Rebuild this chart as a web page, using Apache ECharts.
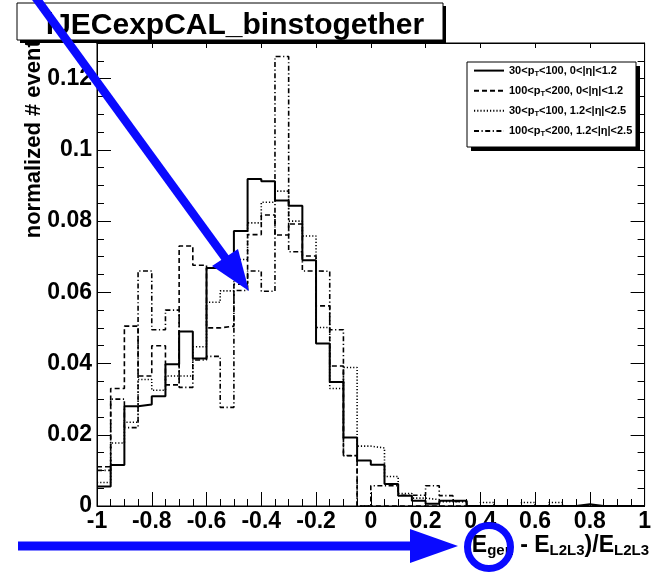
<!DOCTYPE html>
<html>
<head>
<meta charset="utf-8">
<script src="https://cdn.jsdelivr.net/npm/echarts@6/dist/echarts.min.js"></script>
<style>
  html, body { margin: 0; padding: 0; background: #fff; }
  #chart { width: 654px; height: 578px; }
</style>
</head>
<body>
<div id="chart"></div>
<script>
// Binning: 40 bins of width 0.05 on [-1, 1]
const xMin = -1;
const xMax = 1;
const binWidth = 0.05;

const titleText = 'lJECexpCAL_binstogether';
const yTitle = 'normalized # events';

// Legend labels (plain) and their rich-text forms
const seriesNames = [
  '30<pT<100, 0<|η|<1.2',
  '100<pT<200, 0<|η|<1.2',
  '30<pT<100, 1.2<|η|<2.5',
  '100<pT<200, 1.2<|η|<2.5'
];
const seriesLabels = [
  '30<p{sub|T}<100, 0<|η|<1.2',
  '100<p{sub|T}<200, 0<|η|<1.2',
  '30<p{sub|T}<100, 1.2<|η|<2.5',
  '100<p{sub|T}<200, 1.2<|η|<2.5'
];

// Normalized bin contents, one value per bin from -1 to 1
const lowPtCentral = [
  0.0055, 0.0115, 0.0280, 0.0285, 0.0308, 0.0398, 0.0490, 0.0414, 0.0668, 0.0668,
  0.0772, 0.0918, 0.0912, 0.0858, 0.0843, 0.0690, 0.0456, 0.0348, 0.0192, 0.0128,
  0.0116, 0.0062, 0.0029, 0.0015, 0.0006, 0.0015, 0.0015, 0, 0, 0,
  0, 0, 0, 0, 0, 0.0005, 0, 0, 0, 0
];
const highPtCentral = [
  0.0110, 0.0330, 0.0505, 0.0365, 0.0450, 0.0340, 0.0730, 0.0676, 0.0500, 0.0505,
  0.0623, 0.0762, 0.0817, 0.0761, 0.0792, 0.0702, 0.0562, 0.0393, 0.0142, 0,
  0, 0, 0, 0, 0, 0, 0, 0, 0, 0,
  0, 0, 0, 0, 0, 0, 0, 0, 0, 0
];
const lowPtForward = [
  0.0066, 0.0177, 0.0235, 0.0355, 0.0325, 0.0365, 0.0365, 0.0447, 0.0572, 0.0604,
  0.0692, 0.0795, 0.0853, 0.0884, 0.0800, 0.0758, 0.0501, 0.0330, 0.0389, 0.0168,
  0.0163, 0.0083, 0.0035, 0.0022, 0.0018, 0.0012, 0.0012, 0, 0.0010, 0,
  0, 0.0010, 0, 0.0010, 0, 0, 0, 0, 0, 0
];
const highPtForward = [
  0.0100, 0.0300, 0.0220, 0.0660, 0.0495, 0.0550, 0.0333, 0.0410, 0.0420, 0.0277,
  0.0605, 0.0660, 0.0603, 0.1262, 0.0714, 0.0660, 0.0659, 0.0495, 0.0141, 0,
  0.0057, 0.0057, 0.0030, 0.0030, 0.0057, 0.0029, 0.0013, 0, 0, 0,
  0, 0, 0, 0, 0, 0, 0, 0, 0, 0
];

// Histogram outline: one point per lower bin edge, plus the closing upper edge
function histPoints(values) {
  const pts = values.map((v, i) => [xMin + i * binWidth, v]);
  pts.push([xMax, values[values.length - 1]]);
  return pts;
}

const FONT = '"Liberation Sans", Arial, Helvetica, sans-serif';
const BLUE = '#0a0aff';

const styles = [
  { type: 'solid', width: 2 },
  { type: [5, 3], width: 1.6 },
  { type: [1.2, 2], width: 1.6 },
  { type: [5, 2.5, 1.2, 2.5], width: 1.6 }
];
const valueSets = [lowPtCentral, highPtCentral, lowPtForward, highPtForward];

const series = valueSets.map((vals, k) => ({
  name: seriesNames[k],
  type: 'line',
  step: 'end',
  symbol: 'none',
  showSymbol: false,
  silent: true,
  xAxisIndex: 0,
  yAxisIndex: 0,
  data: histPoints(vals),
  itemStyle: { color: '#000' },
  lineStyle: { color: '#000', type: styles[k].type, width: styles[k].width, cap: 'butt' },
  z: 3
}));

const tickLine = { lineStyle: { color: '#000', width: 1 } };

const chart = echarts.init(document.getElementById('chart'), null, { renderer: 'canvas' });

chart.setOption({
  animation: false,
  backgroundColor: '#fff',
  title: {
    text: titleText,
    left: 230,
    top: 4,
    textAlign: 'center',
    textStyle: { fontFamily: FONT, fontWeight: 'bold', fontSize: 30, color: '#000', lineHeight: 34 },
    z: 12
  },
  grid: {
    left: 97, top: 43, width: 552, height: 463,
    show: true, borderColor: '#000', borderWidth: 1, backgroundColor: 'transparent'
  },
  legend: {
    data: seriesNames,
    orient: 'vertical',
    left: 473,
    top: 65,
    padding: 0,
    itemGap: 7,
    itemWidth: 30,
    itemHeight: 14,
    z: 14,
    selectedMode: false,
    itemStyle: { color: 'transparent', borderWidth: 0, opacity: 0 },
    formatter: name => seriesLabels[seriesNames.indexOf(name)],
    textStyle: {
      fontFamily: FONT, fontWeight: 'bold', fontSize: 11, color: '#000',
      rich: { sub: { fontFamily: FONT, fontWeight: 'bold', fontSize: 7.5, color: '#000', padding: [7, 0, 0, 0] } }
    }
  },
  xAxis: [
    {
      type: 'value', position: 'bottom', min: xMin, max: xMax, interval: 0.2,
      axisLine: { show: true, onZero: false, lineStyle: { color: '#000', width: 1 } },
      axisTick: Object.assign({ show: true, inside: true, length: 14 }, tickLine),
      minorTick: Object.assign({ show: true, splitNumber: 4, length: 7 }, tickLine),
      splitLine: { show: false },
      axisLabel: { fontFamily: FONT, fontWeight: 'bold', fontSize: 23, color: '#000', margin: 4 }
    },
    {
      type: 'value', position: 'top', min: xMin, max: xMax, interval: 0.2,
      axisLine: { show: true, onZero: false, lineStyle: { color: '#000', width: 1 } },
      axisTick: Object.assign({ show: true, inside: true, length: 5 }, tickLine),
      splitLine: { show: false },
      axisLabel: { show: false }
    }
  ],
  yAxis: [
    {
      type: 'value', position: 'left', min: 0, max: 0.13, interval: 0.02,
      axisLine: { show: true, onZero: false, lineStyle: { color: '#000', width: 1 } },
      axisTick: Object.assign({ show: true, inside: true, length: 14 }, tickLine),
      splitLine: { show: false },
      axisLabel: { fontFamily: FONT, fontWeight: 'bold', fontSize: 23, color: '#000', margin: 5, showMaxLabel: false }
    },
    {
      type: 'value', position: 'left', min: 0, max: 0.13, interval: 0.005,
      axisLine: { show: false, onZero: false },
      axisTick: Object.assign({ show: true, inside: true, length: 7 }, tickLine),
      splitLine: { show: false },
      axisLabel: { show: false }
    },
    {
      type: 'value', position: 'right', min: 0, max: 0.13, interval: 0.02,
      axisLine: { show: true, onZero: false, lineStyle: { color: '#000', width: 1 } },
      axisTick: Object.assign({ show: true, inside: true, length: 14 }, tickLine),
      splitLine: { show: false },
      axisLabel: { show: false }
    },
    {
      type: 'value', position: 'right', min: 0, max: 0.13, interval: 0.005,
      axisLine: { show: false, onZero: false },
      axisTick: Object.assign({ show: true, inside: true, length: 7 }, tickLine),
      splitLine: { show: false },
      axisLabel: { show: false }
    }
  ],
  series: series,
  graphic: [
    // y-axis title, reading upward, its end tucked under the title box
    {
      type: 'text', x: 45, y: 28, rotation: Math.PI / 2, z: 5,
      style: { text: yTitle, fontFamily: FONT, fontWeight: 'bold', fontSize: 22, fill: '#000', align: 'right', verticalAlign: 'bottom' }
    },
    // x-axis title
    {
      type: 'text', x: 649, y: 546, z: 5,
      style: {
        text: '(E{s|gen} - E{s|L2L3})/E{s|L2L3}',
        fontFamily: FONT, fontWeight: 'bold', fontSize: 23, fill: '#000',
        align: 'right', verticalAlign: 'middle',
        rich: { s: { fontFamily: FONT, fontWeight: 'bold', fontSize: 15, fill: '#000', padding: [10, 0, 0, 0] } }
      }
    },
    // title box with drop shadow
    { type: 'rect', z: 10, shape: { x: 20, y: 6, width: 426, height: 37 }, style: { fill: '#000' } },
    { type: 'rect', z: 11, shape: { x: 17, y: 3, width: 426, height: 37 }, style: { fill: '#fff', stroke: '#000', lineWidth: 1 } },
    // legend box with drop shadow
    { type: 'rect', z: 10, shape: { x: 471, y: 66, width: 169, height: 85 }, style: { fill: '#000' } },
    { type: 'rect', z: 11, shape: { x: 467, y: 62, width: 169, height: 85 }, style: { fill: '#fff', stroke: '#000', lineWidth: 1 } },
    // diagonal blue arrow
    { type: 'line', z: 20, shape: { x1: 33, y1: -6, x2: 226, y2: 259 }, style: { stroke: BLUE, lineWidth: 8.5 } },
    { type: 'polygon', z: 20, shape: { points: [[212, 266], [238, 249], [249, 291]] }, style: { fill: BLUE } },
    // horizontal blue arrow
    { type: 'line', z: 20, shape: { x1: 18, y1: 546, x2: 414, y2: 546 }, style: { stroke: BLUE, lineWidth: 9 } },
    { type: 'polygon', z: 20, shape: { points: [[410, 529], [410, 563], [458, 546]] }, style: { fill: BLUE } },
    // ring around the generator energy symbol
    { type: 'circle', z: 20, shape: { cx: 489, cy: 547, r: 21.5 }, style: { fill: 'none', stroke: BLUE, lineWidth: 7 } }
  ]
});
</script>
</body>
</html>
